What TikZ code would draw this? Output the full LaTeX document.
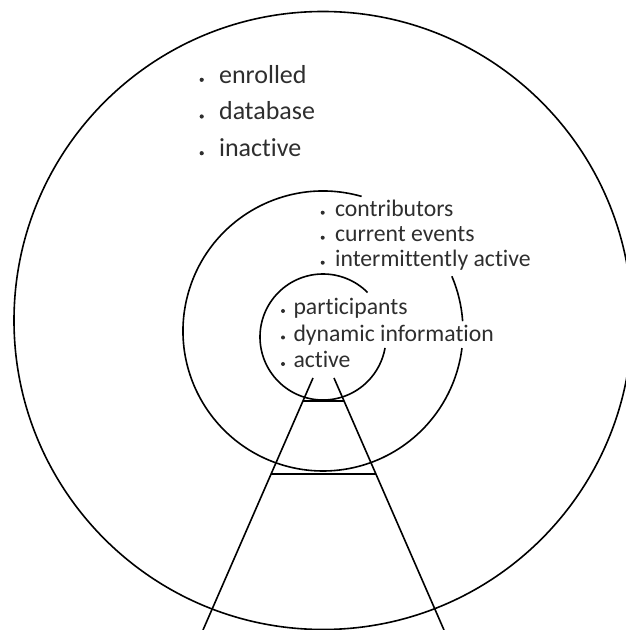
\documentclass[tikz,border=0pt]{standalone}
\usepackage{fontspec}
\setmainfont{Carlito}[Ligatures=NoCommon]
\usetikzlibrary{calc}
\definecolor{txt}{gray}{0.18}

\begin{document}
\begin{tikzpicture}[x=1pt,y=1pt,line width=1.6pt,
  bigitem/.style={anchor=base west,inner sep=0pt,text=txt,font=\fontsize{26}{30}\selectfont},
  smallitem/.style={anchor=base west,inner sep=0pt,text=txt,font=\fontsize{23.7}{28}\selectfont}]

\useasboundingbox (0,0) rectangle (625,630);

% centres of the three rings
\coordinate (outerc) at (323,309.5);
\coordinate (midc) at (323,299);
\coordinate (innerc) at (323,293);

% outer ring
\draw (outerc) circle (309pt);

% middle ring, open where its text runs out
\draw ([shift={(74:140pt)}]midc) arc (74:353:140pt);
\draw ([shift={(4:140pt)}]midc) arc (4:23:140pt);

% inner ring
\draw ([shift={(45:63pt)}]innerc) arc (45:350:63pt);

% the two legs
\coordinate (ltop) at (313,252);
\coordinate (lbot) at (203,0);
\coordinate (rtop) at (334,252);
\coordinate (rbot) at (444,0);
\draw (ltop) -- (lbot);
\draw (rtop) -- (rbot);

% bars between the legs
\coordinate (lmid) at ($(ltop)!0.381!(lbot)$);
\coordinate (rmid) at ($(rtop)!0.381!(rbot)$);
\coordinate (lin) at ($(ltop)!0.091!(lbot)$);
\coordinate (rin) at ($(rtop)!0.091!(rbot)$);
\draw (lmid) -- (rmid);
\draw (lin) -- (rin);

% outer ring text
\node[bigitem] (enrolled) at (218.3,546.7) {enrolled};
\node[bigitem] (database) at (218.3,510) {database};
\node[bigitem] (inactive) at (218.3,473.3) {inactive};
\fill[txt] ([xshift=-16.6pt,yshift=3.5pt]enrolled.base west) circle (2.1pt);
\fill[txt] ([xshift=-16.6pt,yshift=3.5pt]database.base west) circle (2.1pt);
\fill[txt] ([xshift=-16.6pt,yshift=3.5pt]inactive.base west) circle (2.1pt);

% middle ring text
\node[smallitem] (contrib) at (334.3,413.3) {contributors};
\node[smallitem] (events) at (334.3,388.3) {current events};
\node[smallitem] (intermit) at (334.3,363.3) {intermittently active};
\fill[txt] ([xshift=-11.6pt,yshift=4pt]contrib.base west) circle (2pt);
\fill[txt] ([xshift=-11.6pt,yshift=4pt]events.base west) circle (2pt);
\fill[txt] ([xshift=-11.6pt,yshift=4pt]intermit.base west) circle (2pt);

% inner ring text
\node[smallitem] (partic) at (292.7,315) {participants};
\node[smallitem] (dynamic) at (292.7,288.5) {dynamic information};
\node[smallitem] (active) at (292.7,262) {active};
\fill[txt] ([xshift=-9.7pt,yshift=4pt]partic.base west) circle (2pt);
\fill[txt] ([xshift=-9.7pt,yshift=4pt]dynamic.base west) circle (2pt);
\fill[txt] ([xshift=-9.7pt,yshift=4pt]active.base west) circle (2pt);

\end{tikzpicture}
\end{document}
